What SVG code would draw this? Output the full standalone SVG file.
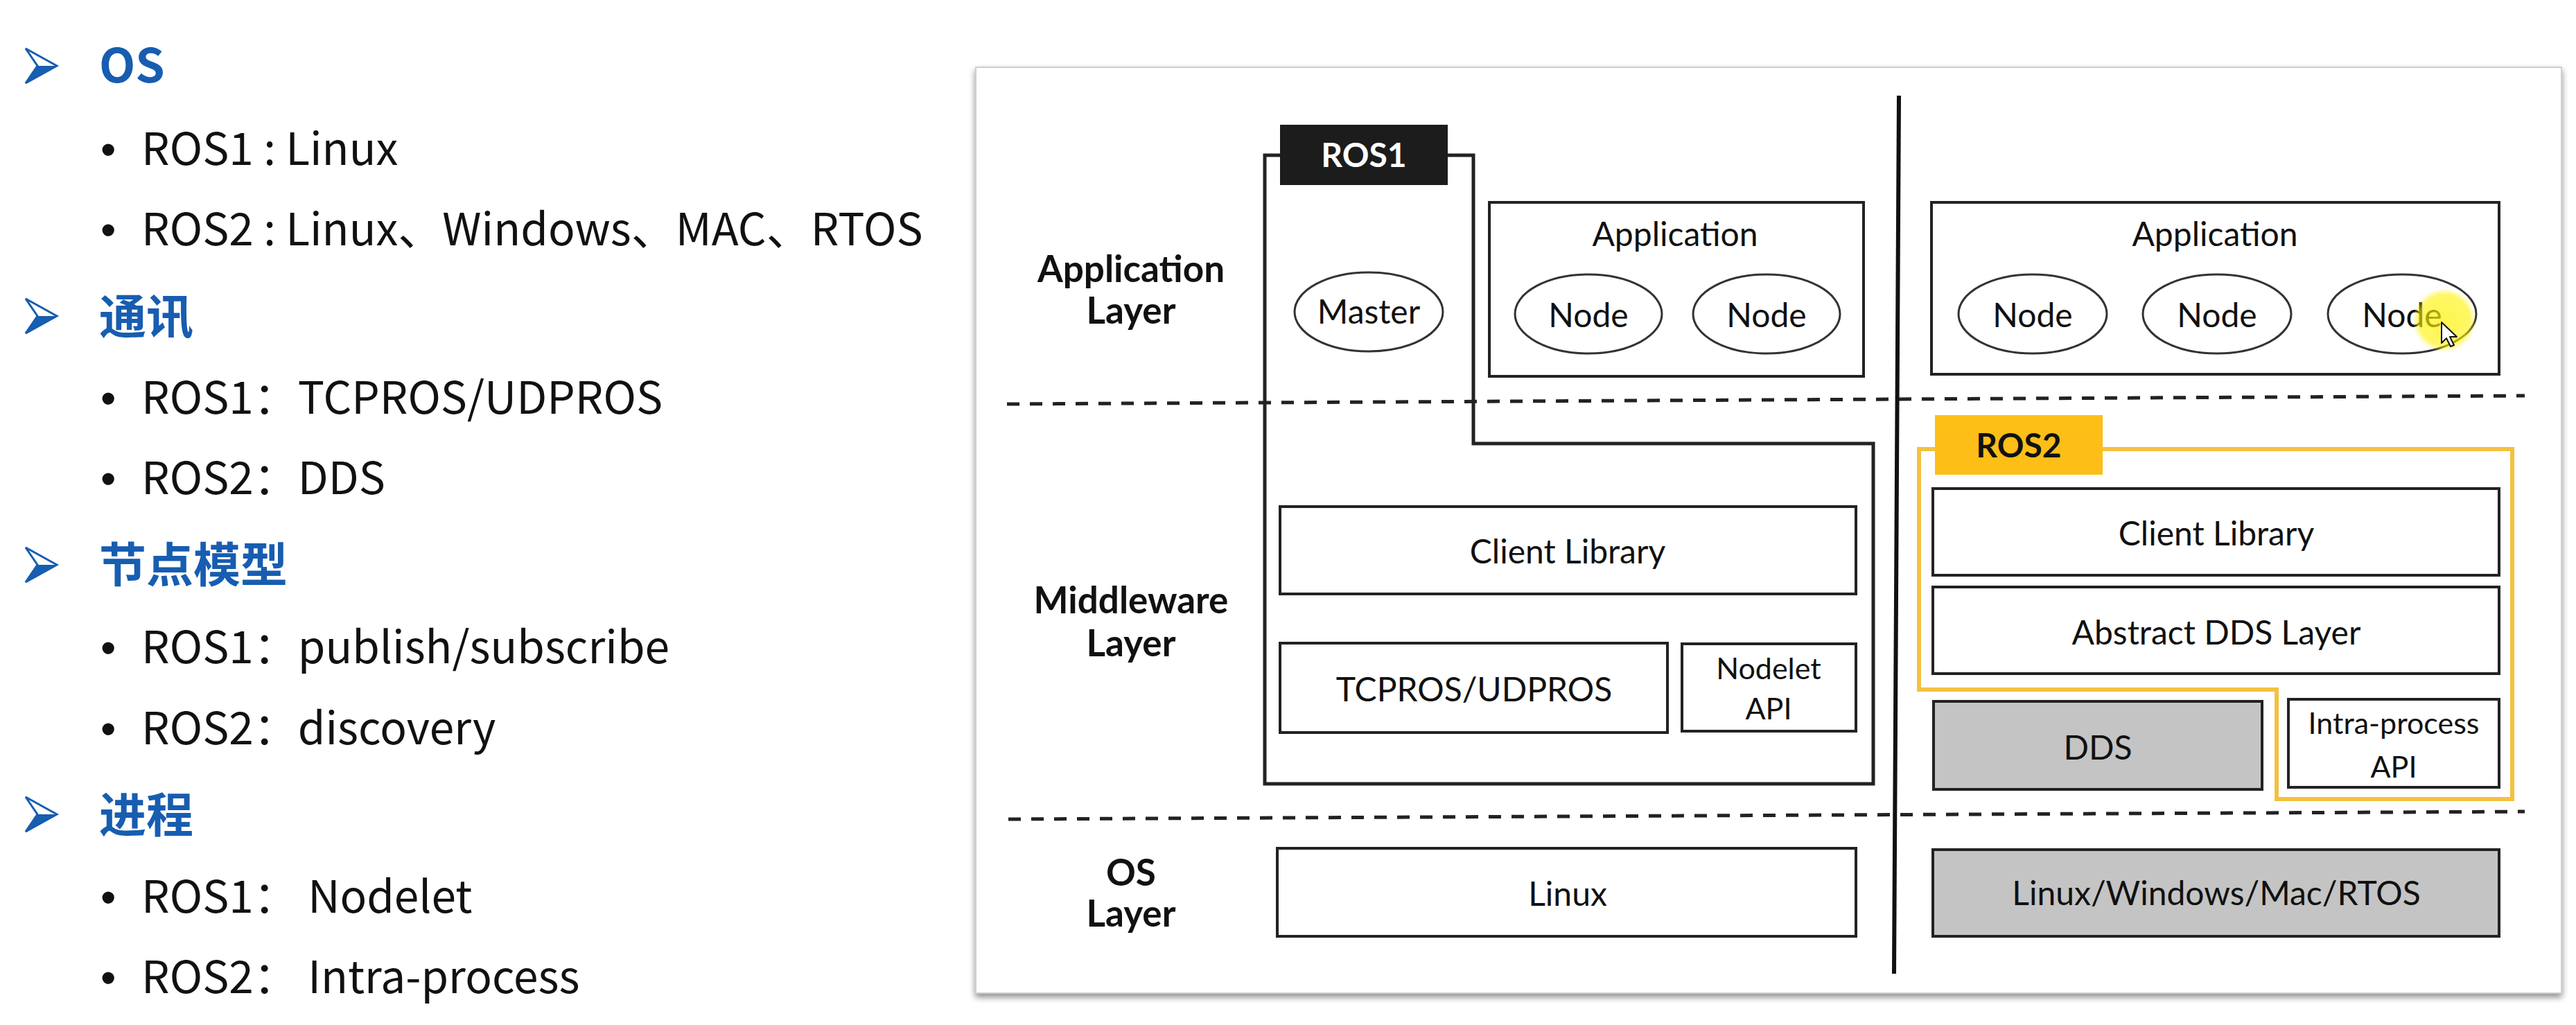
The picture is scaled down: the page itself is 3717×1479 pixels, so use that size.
<svg xmlns="http://www.w3.org/2000/svg" width="3717" height="1479" viewBox="0 0 3717 1479">
<defs>
<style>
.h{font-family:"Noto Sans CJK SC","Noto Sans",sans-serif;font-weight:700;font-size:68px;fill:#175DB0}
.b{font-family:"Noto Sans CJK SC","Noto Sans",sans-serif;font-size:64px;fill:#111}
.dot{font-family:"Liberation Sans",Arial,sans-serif}
.box{fill:#fff;stroke:#222;stroke-width:4}
.gray{fill:#c4c4c4;stroke:#222;stroke-width:4}
.ell{fill:#fff;stroke:#333;stroke-width:3}
.t{font-family:Lato,"Liberation Sans",sans-serif;font-size:48px;fill:#111;text-anchor:middle}
.ts{font-size:43px}
.lbl{font-family:Lato,"Liberation Sans",sans-serif;font-weight:700;font-size:53px;fill:#111;text-anchor:middle}
.tag{font-family:Lato,"Liberation Sans",sans-serif;font-weight:700;font-size:48px;text-anchor:middle}
.dash{stroke:#222;stroke-width:5;stroke-dasharray:18 15;fill:none}
</style>
<filter id="sh" x="-3%" y="-3%" width="106%" height="108%">
<feGaussianBlur in="SourceAlpha" stdDeviation="5"/>
<feOffset dx="0" dy="5" result="o"/>
<feComponentTransfer><feFuncA type="linear" slope="0.45"/></feComponentTransfer>
<feMerge><feMergeNode/><feMergeNode in="SourceGraphic"/></feMerge>
</filter>
<g id="arr">
<path d="M0,-25 L45,0 L0,25 L17,0 Z" fill="#fff" stroke="#175DB0" stroke-width="3" stroke-linejoin="miter"/>
<path d="M17,0 L45,0 L0,25 Z" fill="#175DB0"/>
</g>
<radialGradient id="hl">
<stop offset="0" stop-color="#fff200" stop-opacity="0.7"/>
<stop offset="0.8" stop-color="#fff200" stop-opacity="0.6"/>
<stop offset="1" stop-color="#fff200" stop-opacity="0"/>
</radialGradient>
</defs>
<rect width="3717" height="1479" fill="#fff"/>

<g id="left-list">
<use href="#arr" x="37" y="95"/>
<text class="h" x="143" y="119">OS</text>
<text class="b" y="238"><tspan class="dot" x="145">•</tspan><tspan x="204">ROS1 : Linux</tspan></text>
<text class="b" y="354"><tspan class="dot" x="145">•</tspan><tspan x="204">ROS2 : Linux、Windows、MAC、RTOS</tspan></text>
<use href="#arr" x="37" y="456"/>
<text class="h" x="143" y="482">通讯</text>
<text class="b" y="597"><tspan class="dot" x="145">•</tspan><tspan x="204">ROS1：TCPROS/UDPROS</tspan></text>
<text class="b" y="713"><tspan class="dot" x="145">•</tspan><tspan x="204">ROS2：DDS</tspan></text>
<use href="#arr" x="37" y="815"/>
<text class="h" x="143" y="840">节点模型</text>
<text class="b" y="957"><tspan class="dot" x="145">•</tspan><tspan x="204">ROS1：publish/subscribe</tspan></text>
<text class="b" y="1074"><tspan class="dot" x="145">•</tspan><tspan x="204">ROS2：discovery</tspan></text>
<use href="#arr" x="37" y="1175"/>
<text class="h" x="143" y="1201">进程</text>
<text class="b" y="1317"><tspan class="dot" x="145">•</tspan><tspan x="204">ROS1： Nodelet</tspan></text>
<text class="b" y="1433"><tspan class="dot" x="145">•</tspan><tspan x="204">ROS2： Intra-process</tspan></text>
</g>

<g id="panel">
<rect x="1408" y="97" width="2288" height="1336" fill="#fff" stroke="#cfcfcf" stroke-width="2" filter="url(#sh)"/>
</g>

<g id="layer-labels">
<text class="lbl" x="1632"><tspan x="1632" y="407">Application</tspan><tspan x="1632" y="467">Layer</tspan></text>
<text class="lbl" x="1632"><tspan x="1632" y="885">Middleware</tspan><tspan x="1632" y="947">Layer</tspan></text>
<text class="lbl" x="1632"><tspan x="1632" y="1278">OS</tspan><tspan x="1632" y="1337">Layer</tspan></text>
</g>

<g id="separators">
<line class="dash" x1="1453" y1="583" x2="3643" y2="571"/>
<line class="dash" x1="1455" y1="1182" x2="3643" y2="1171"/>
<line x1="2740" y1="138" x2="2733" y2="1405" stroke="#111" stroke-width="6"/>
</g>

<g id="ros1">
<path d="M1825,224 H2126 V640 H2703 V1131 H1825 Z" fill="none" stroke="#222" stroke-width="5"/>
<rect x="1847" y="180" width="242" height="87" fill="#1c1c1c"/>
<text class="tag" x="1968" y="241" fill="#fff">ROS1</text>
</g>

<g id="master">
<ellipse class="ell" cx="1975" cy="450" rx="107" ry="57"/>
<text class="t" x="1975" y="467">Master</text>
</g>

<g id="ros1-application">
<rect class="box" x="2149" y="292" width="540" height="251"/>
<text class="t" x="2417" y="355">Application</text>
<ellipse class="ell" cx="2292" cy="453" rx="106" ry="57"/>
<text class="t" x="2292" y="472">Node</text>
<ellipse class="ell" cx="2549" cy="453" rx="106" ry="57"/>
<text class="t" x="2549" y="472">Node</text>
</g>

<g id="ros1-client-library">
<rect class="box" x="1847" y="731" width="831" height="126"/>
<text class="t" x="2262" y="813">Client Library</text>
</g>
<g id="tcpros">
<rect class="box" x="1847" y="928" width="559" height="129"/>
<text class="t" x="2127" y="1012">TCPROS/UDPROS</text>
</g>
<g id="nodelet-api">
<rect class="box" x="2427" y="929" width="251" height="126"/>
<text class="t ts" x="2552" y="980">Nodelet</text>
<text class="t ts" x="2552" y="1038">API</text>
</g>
<g id="linux">
<rect class="box" x="1843" y="1224" width="835" height="127"/>
<text class="t" x="2262" y="1307">Linux</text>
</g>

<g id="ros2-application">
<rect class="box" x="2787" y="292" width="819" height="248"/>
<text class="t" x="3196" y="355">Application</text>
<ellipse class="ell" cx="2933" cy="453" rx="107" ry="57"/>
<text class="t" x="2933" y="472">Node</text>
<ellipse class="ell" cx="3199" cy="453" rx="107" ry="57"/>
<text class="t" x="3199" y="472">Node</text>
<ellipse class="ell" cx="3466" cy="453" rx="107" ry="57"/>
<text class="t" x="3466" y="472">Node</text>
</g>

<g id="ros2">
<path d="M2769,648 H3625 V1153 H3285 V995 H2769 Z" fill="none" stroke="#f4c13f" stroke-width="6"/>
<rect x="2792" y="599" width="242" height="86" fill="#fdbe17"/>
<text class="tag" x="2913" y="660" fill="#111">ROS2</text>
</g>

<g id="ros2-client-library">
<rect class="box" x="2789" y="705" width="817" height="125"/>
<text class="t" x="3198" y="787">Client Library</text>
</g>
<g id="abstract-dds">
<rect class="box" x="2789" y="847" width="817" height="125"/>
<text class="t" x="3198" y="930">Abstract DDS Layer</text>
</g>
<g id="dds">
<rect class="gray" x="2790" y="1012" width="474" height="127"/>
<text class="t" x="3027" y="1096">DDS</text>
</g>
<g id="intra-process-api">
<rect class="box" x="3302" y="1009" width="304" height="127"/>
<text class="t ts" x="3454" y="1059">Intra-process</text>
<text class="t ts" x="3454" y="1122">API</text>
</g>
<g id="os-ros2">
<rect class="gray" x="2789" y="1226" width="817" height="125"/>
<text class="t" x="3198" y="1306">Linux/Windows/Mac/RTOS</text>
</g>

<g id="cursor">
<circle cx="3527" cy="462" r="46" fill="url(#hl)"/>
<path d="M3523,465 v30 l7,-7 l6,12 l5,-2 l-6,-12 h10 Z" fill="#fff" stroke="#111" stroke-width="2" stroke-linejoin="round"/>
</g>
</svg>
